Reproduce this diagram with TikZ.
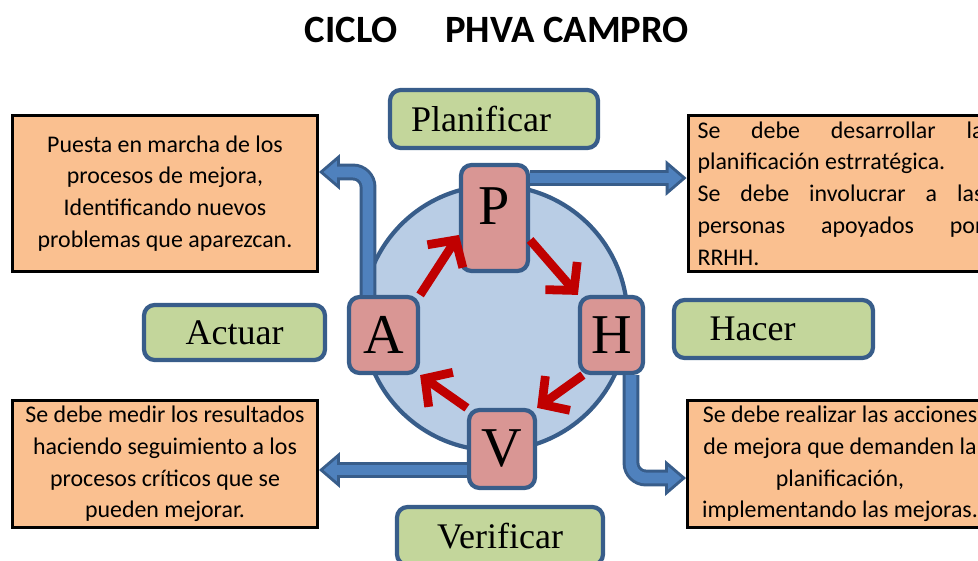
\documentclass[tikz,border=0pt]{standalone}
\usepackage{fontspec}
\setmainfont{Liberation Serif}
\newfontfamily\calibri{Carlito}
\usepackage{xcolor}
\usetikzlibrary{arrows.meta}
\definecolor{azulborde}{HTML}{385D8A}
\definecolor{azulflecha}{HTML}{4F81BD}
\definecolor{azulcirculo}{HTML}{B9CDE5}
\definecolor{rosa}{HTML}{D99694}
\definecolor{verdeclaro}{HTML}{C3D69B}
\definecolor{naranja}{HTML}{FAC090}
\definecolor{rojo}{HTML}{C00000}
\tolerance=10000

\begin{document}
\begin{tikzpicture}[x=0.02cm, y=-0.02cm,
  etapa/.style={draw=azulborde, line width=2.4pt, fill=verdeclaro, rounded corners=6pt,
    font=\fontsize{20.5}{24}\selectfont, inner sep=0pt, minimum height=1.16cm},
  letra/.style={draw=azulborde, line width=2.4pt, fill=rosa, rounded corners=6pt,
    font=\fontsize{32}{36}\selectfont, inner sep=0pt},
  caja/.style={draw=black, line width=1.7pt, fill=naranja, inner sep=3pt, minimum width=6.1cm,
    font=\calibri\fontsize{13.6}{18.1}\selectfont},
  borde/.style={draw=azulborde, line width=9.6pt, rounded corners=0.3cm,
    -{Triangle[length=11.9pt, width=20.4pt, line width=0pt]}},
  cuerpo/.style={draw=azulflecha, line width=6.2pt, rounded corners=0.3cm, shorten >=2.6pt,
    -{Triangle[length=7.6pt, width=13pt, line width=0pt]}},
  ciclo/.style={draw=rojo, line width=5pt, -{Straight Barb[length=11pt, width=24pt]}}
]
  \useasboundingbox (0,0) rectangle (978,561);

  \node[font=\calibri\bfseries\fontsize{22}{26}\selectfont] (titulo) at (497,30)
    {CICLO\quad\ PHVA CAMPRO};

  % circulo del ciclo
  \node[circle, draw=azulborde, line width=2.4pt, fill=azulcirculo, minimum size=5.3cm]
    (circulo) at (495,318) {};

  % etapas
  \node[etapa, minimum width=4.16cm] (plan) at (494,119) {Planificar\hspace*{0.52cm}};
  \node[etapa, minimum width=3.62cm, minimum height=1.1cm] (actuar) at (234.5,332.5) {Actuar};
  \node[etapa, minimum width=3.98cm] (hacer) at (773.5,329) {Hacer\hspace*{0.84cm}};
  \node[etapa, minimum width=4.12cm] (verif) at (500,536) {Verificar};

  % cajas de texto
  \node[caja, minimum height=3.12cm, align=center] (cajaA) at (165,193.5)
    {Puesta en marcha de los\\procesos de mejora,\\Identificando nuevos\\problemas que aparezcan.};
  \node[caja, minimum height=3.12cm, inner ysep=1pt, text width=5.72cm, align=justify] (cajaP) at (840.5,193.5)
    {Se debe desarrollar la\linebreak planificación estrratégica.\\
     Se debe involucrar a las\linebreak personas apoyados por\linebreak RRHH.};
  \node[caja, minimum height=2.5cm, align=center] (cajaV) at (165,464)
    {Se debe medir los resultados\\haciendo seguimiento a los\\procesos críticos que se\\pueden mejorar.};
  \node[caja, minimum height=2.5cm, align=center] (cajaH) at (840,464)
    {Se debe realizar las acciones\\de mejora que demanden la\\planificación,\\implementando las mejoras.};

  % letras PHVA
  \node[letra, minimum width=1.34cm, minimum height=2.12cm, text depth=0.48cm] (P) at (494.5,218) {P};
  \node[letra, minimum width=1.26cm, minimum height=1.52cm] (H) at (611.5,335) {H};
  \node[letra, minimum width=1.38cm, minimum height=1.52cm] (A) at (383.5,335) {A};
  \node[letra, minimum width=1.32cm, minimum height=1.56cm] (V) at (502,449) {V};

  % flechas azules
  \draw[borde]  ([yshift=0.8cm]P.east) -- ([yshift=0.8cm]P.east -| cajaP.west);
  \draw[cuerpo] ([yshift=0.8cm]P.east) -- ([yshift=0.8cm]P.east -| cajaP.west);
  \draw[borde]  ([xshift=-0.31cm]A.north) |- ([yshift=0.43cm]cajaA.east);
  \draw[cuerpo] ([xshift=-0.31cm]A.north) |- ([yshift=0.43cm]cajaA.east);
  \draw[borde]  ([yshift=-0.42cm]V.west) -- ([yshift=-0.42cm]V.west -| cajaV.east);
  \draw[cuerpo] ([yshift=-0.42cm]V.west) -- ([yshift=-0.42cm]V.west -| cajaV.east);
  \draw[borde]  ([xshift=0.39cm]H.south) |- ([yshift=-0.28cm]cajaH.west);
  \draw[cuerpo] ([xshift=0.39cm]H.south) |- ([yshift=-0.28cm]cajaH.west);

  % flechas del ciclo
  \draw[ciclo] (A.north east) -- ([yshift=-0.34cm]P.west);
  \draw[ciclo] ([yshift=-0.44cm]P.east) -- (H.north west);
  \draw[ciclo] ([xshift=0.1cm]H.south west) -- (V.north east);
  \draw[ciclo] (V.north west) -- (A.south east);
\end{tikzpicture}
\end{document}
